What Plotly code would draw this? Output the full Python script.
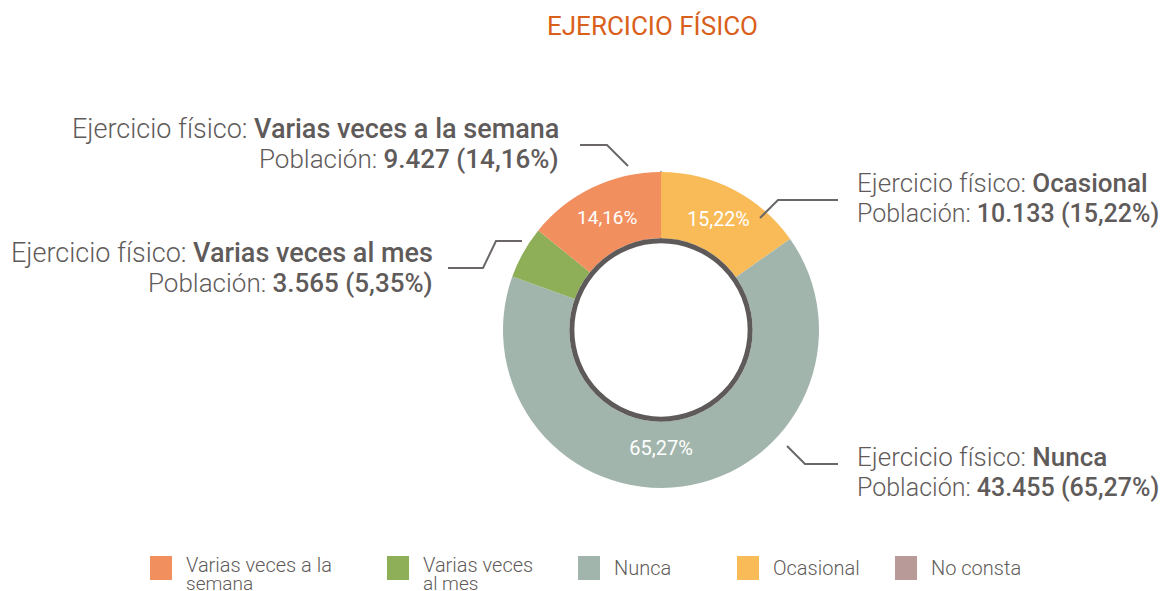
import plotly.graph_objects as go

# ---- data ----
categories = ["Varias veces a la semana", "Varias veces al mes", "Nunca", "Ocasional", "No consta"]
legend_labels = ["Varias veces a la<br>semana", "Varias veces<br>al mes", "Nunca", "Ocasional", "No consta"]
population = [9427, 3565, 43455, 10133, 2]
inside_text = ["14,16%", "", "65,27%", "15,22%", ""]
callout_pop = ["9.427 (14,16%)", "3.565 (5,35%)", "43.455 (65,27%)", "10.133 (15,22%)", None]
colors = ["#f28f5f", "#8fae58", "#a2b5ac", "#f9bb58", "#b89a98"]

# the page body has an 8px margin: figure is drawn 8px right/down of the window origin
OFF = 8
W, H = 1167 - OFF, 591 - OFF
FONT = "Roboto"
GRAY = "#5f5b5a"


def px(x, y):
    """reference-window pixel -> paper coords"""
    return (x - OFF) / W, 1 - (y - OFF) / H


cx, cy, R = 661, 330, 158
hole = 0.58

# pie drawn clockwise from 12 o'clock in reverse category order
order = [4, 3, 2, 1, 0]
border_col = ["rgba(0,0,0,0)"] * 5
border_w = [0] * 5
border_col[0] = "#9a8a8a"
border_w[0] = 2
text_sizes = [19, 19, 20, 21, 19]

dx0, dy0 = px(cx - R, cy + R)
dx1, dy1 = px(cx + R, cy - R)

fig = go.Figure()
fig.add_trace(go.Pie(
    labels=[categories[i] for i in order],
    values=[population[i] for i in order],
    text=[inside_text[i] for i in order],
    textinfo="text",
    textposition="inside",
    insidetextorientation="horizontal",
    textfont=dict(family=FONT, size=[text_sizes[i] for i in order], color="white"),
    marker=dict(colors=[colors[i] for i in order], line=dict(color=border_col, width=border_w)),
    hole=hole,
    sort=False,
    direction="clockwise",
    rotation=0,
    showlegend=False,
    hoverinfo="label+value",
    domain=dict(x=[dx0, dx1], y=[dy0, dy1]),
))

shapes = []
annotations = []

# dark ring around hole
rr = R * hole - 2.5
x0, y0 = px(cx - rr, cy + rr)
x1, y1 = px(cx + rr, cy - rr)
shapes.append(dict(type="circle", xref="paper", yref="paper", x0=x0, y0=y0, x1=x1, y1=y1,
                   line=dict(color="#5e5a59", width=5), layer="above"))


def text_ann(x, y, text, size, color, anchor="left", weight=300):
    ax, ay = px(x, y)
    annotations.append(dict(
        x=ax, y=ay, xref="paper", yref="paper", xanchor=anchor, yanchor="middle", align=anchor,
        showarrow=False, text=text,
        font=dict(family=FONT, size=size, color=color, weight=weight),
    ))


def med(s):
    return f'<span style="font-weight:500">{s}</span>'


# callouts: (category index, x, y, side, line-1 size, line-2 size, leader points)
callouts = [
    (0, 561, 129, "right", 27, 26, [(580, 145), (607, 145), (628, 166)]),
    (1, 435, 253, "right", 27, 26, [(448, 268), (483, 268), (496, 241), (522, 241)]),
    (3, 855, 183, "left", 26, 25, [(760, 218), (778, 200), (838, 200)]),
    (2, 855, 457, "left", 26, 25, [(787, 446), (805, 464), (838, 464)]),
]
for idx, x, y, side, s1, s2, pts in callouts:
    text_ann(x, y, f"Ejercicio físico: {med(categories[idx])}", s1, GRAY, side)
    text_ann(x, y + 30, f"Población: {med(callout_pop[idx])}", s2, GRAY, side)
    path = ""
    for i, (qx, qy) in enumerate(pts):
        u, v = px(qx, qy)
        path += ("M" if i == 0 else "L") + f"{u},{v} "
    shapes.append(dict(type="path", xref="paper", yref="paper", path=path.strip(),
                       line=dict(color="#6b6767", width=2)))

# custom legend
leg_x = [150, 387, 578, 737, 895]
for i, lx in enumerate(leg_x):
    a, b = px(lx, 580)
    c, d = px(lx + 22, 556)
    shapes.append(dict(type="rect", xref="paper", yref="paper", x0=a, y0=b, x1=c, y1=d,
                       line=dict(width=0), fillcolor=colors[i]))
    lines = legend_labels[i].split("<br>")
    if len(lines) == 1:
        text_ann(lx + 34, 568, lines[0], 20, GRAY)
    else:
        for j, ln in enumerate(lines):
            text_ann(lx + 34, 565 + 18 * j, ln, 19 if j else 20, GRAY)

# title
text_ann(652, 26, "EJERCICIO FÍSICO", 26, "#d9601a", "center", 400)

fig.update_layout(
    width=W, height=H,
    margin=dict(l=0, r=0, t=0, b=0),
    paper_bgcolor="white", plot_bgcolor="white",
    shapes=shapes, annotations=annotations,
    showlegend=False,
)

fig.write_html("out.html")
